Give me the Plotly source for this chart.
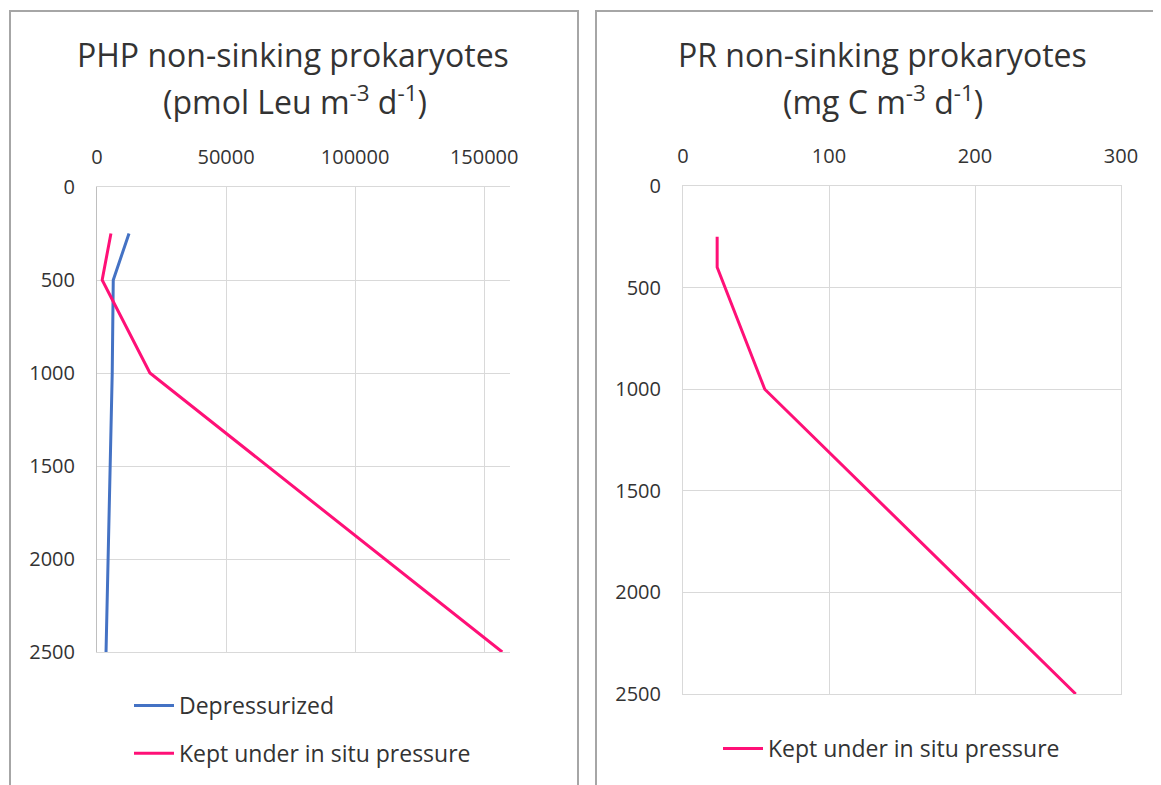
import plotly.graph_objects as go

# ---- data ----
depth_php = [250, 500, 1000, 2500]
php_depressurized = [12400, 6300, 5900, 3500]
php_in_situ = [5400, 2000, 20500, 157000]

depth_pr = [250, 400, 1000, 2500]
pr_in_situ = [23.4, 23.4, 56, 269]

php_x_ticks = [0, 50000, 100000, 150000]
pr_x_ticks = [0, 100, 200, 300]
depth_ticks = [0, 500, 1000, 1500, 2000, 2500]

BLUE = "#4472C4"
PINK = "#FF1077"
GRID = "#D9D9D9"
TXT = "#333333"
FONT = "Open Sans"

# page has an 8px body margin; figure sized to fill the rest of the window
OFF = 8
W, H = 1161 - OFF, 785 - OFF
def px(x):
    return (x - OFF) / W
def py(y):
    return 1 - (y - OFF) / H

fig = go.Figure()
fig.add_trace(go.Scatter(x=php_depressurized, y=depth_php, mode="lines", name="Depressurized",
                         line=dict(color=BLUE, width=3), xaxis="x", yaxis="y",
                         legend="legend", legendgroup="a"))
fig.add_trace(go.Scatter(x=php_in_situ, y=depth_php, mode="lines", name="Kept under in situ pressure",
                         line=dict(color=PINK, width=3), xaxis="x", yaxis="y",
                         legend="legend", legendgroup="b"))
fig.add_trace(go.Scatter(x=pr_in_situ, y=depth_pr, mode="lines", name="Kept under in situ pressure",
                         line=dict(color=PINK, width=3), xaxis="x2", yaxis="y2",
                         legend="legend2"))

axfont = dict(family=FONT, size=20, color=TXT)
common_x = dict(side="top", showgrid=True, gridcolor=GRID, gridwidth=1, zeroline=False,
                showline=True, mirror=True, linecolor=GRID, linewidth=1, automargin=False,
                tickfont=axfont, ticks="", ticklabelstandoff=14, tickformat="d", fixedrange=True)
common_y = dict(autorange=False, showgrid=True, gridcolor=GRID, gridwidth=1, zeroline=False,
                showline=True, linecolor="#BFBFBF", linewidth=1, automargin=False,
                tickfont=axfont, ticks="", ticklabelstandoff=17, tickvals=depth_ticks,
                tickformat="d", fixedrange=True)

legfont = dict(family=FONT, size=23, color=TXT)
fig.update_layout(
    width=W, height=H,
    margin=dict(l=0, r=0, t=0, b=0, pad=0, autoexpand=False),
    paper_bgcolor="white", plot_bgcolor="white",
    font=dict(family=FONT, color=TXT),
    xaxis=dict(common_x, domain=[px(97), px(510)], range=[0, 160000], tickvals=php_x_ticks,
               anchor="y"),
    yaxis=dict(common_y, domain=[py(652), py(187)], range=[2500, 0], anchor="x"),
    xaxis2=dict(common_x, domain=[px(683), px(1121)], range=[0, 300], tickvals=pr_x_ticks,
                anchor="y2"),
    yaxis2=dict(common_y, domain=[py(694), py(186)], range=[2500, 0], anchor="x2", mirror=True,
                linecolor=GRID),
    legend=dict(x=px(129), y=py(684), xanchor="left", yanchor="top",
                font=legfont, bgcolor="rgba(0,0,0,0)",
                traceorder="grouped", tracegroupgap=15, itemwidth=40),
    legend2=dict(x=px(718), y=py(727), xanchor="left", yanchor="top",
                 font=legfont, bgcolor="rgba(0,0,0,0)", itemwidth=40),
    showlegend=True,
)

# chart-area borders
fig.add_shape(type="rect", xref="paper", yref="paper", x0=px(10), x1=px(578), y0=-0.05, y1=py(11),
              line=dict(color="#A6A6A6", width=2), layer="below")
fig.add_shape(type="rect", xref="paper", yref="paper", x0=px(596), x1=1.05, y0=-0.05, y1=py(11),
              line=dict(color="#A6A6A6", width=2), layer="below")

tfont = dict(family=FONT, size=32, color=TXT)
fig.add_annotation(text="PHP non-sinking prokaryotes", x=px(293), y=py(54), xref="paper", yref="paper",
                   showarrow=False, font=tfont, xanchor="center", yanchor="middle")
fig.add_annotation(text="(pmol Leu m<sup>-3</sup> d<sup>-1</sup>)", x=px(295), y=py(100), xref="paper",
                   yref="paper", showarrow=False, font=tfont, xanchor="center", yanchor="middle")
fig.add_annotation(text="PR non-sinking prokaryotes", x=px(882), y=py(54), xref="paper", yref="paper",
                   showarrow=False, font=tfont, xanchor="center", yanchor="middle")
fig.add_annotation(text="(mg C m<sup>-3</sup> d<sup>-1</sup>)", x=px(883), y=py(100), xref="paper",
                   yref="paper", showarrow=False, font=tfont, xanchor="center", yanchor="middle")

fig.write_html("out.html")
